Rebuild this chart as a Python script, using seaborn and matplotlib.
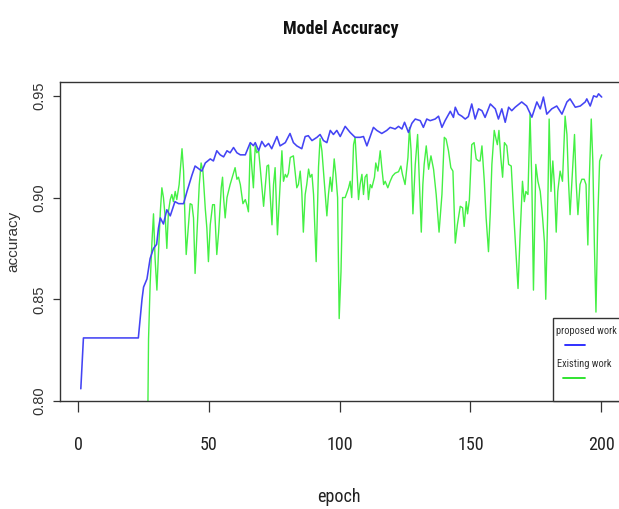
import matplotlib
matplotlib.use("Agg")
import matplotlib.pyplot as plt
from matplotlib import font_manager as fm
import seaborn as sns
import pandas as pd
from matplotlib.patches import Rectangle
from matplotlib.lines import Line2D

# ---------------- data ----------------
proposed_epoch = [1, 2, 23, 24.4, 25, 26.3, 27.5, 28.8, 30, 30.7, 31.4, 32.6, 33.9, 35.2, 37, 38.4,
                  40.3, 41.6, 43.5, 44.7, 47.3, 48.6, 50.5, 51.7, 53, 54.3, 55.6, 56.9, 58.1, 59.4,
                  60.7, 62, 63.9, 65.8, 67, 67.7, 69, 70.2, 71.5, 72.8, 74, 76, 77.2, 79.2, 81, 82.3,
                  83.6, 85.5, 86.8, 88, 89.4, 91.3, 92.5, 93.8, 95.1, 96.4, 97.6, 98.9, 100.2, 102.1,
                  104, 105.9, 107.8, 109.1, 110.4, 112.9, 114.2, 116.1, 118, 119.3, 121.2, 122.5,
                  123.8, 124.8, 126.3, 127.6, 128.9, 130.8, 132, 133.3, 134.6, 136.5, 137.8, 139.1,
                  140.3, 142.3, 143.5, 144.2, 145.4, 146.7, 148, 149.2, 150.5, 151.8, 153.1, 154.4,
                  155.6, 157.6, 159.5, 160.7, 162, 163.3, 164.6, 165.8, 167.1, 169.6, 171.5, 173.5,
                  175.4, 176.7, 177.9, 179.2, 181.1, 183, 185, 186.9, 188.1, 190.1, 192, 193.9,
                  194.5, 195.8, 197.1, 198.3, 199, 200.2]
proposed_acc = [0.806, 0.831, 0.831, 0.850, 0.856, 0.860, 0.870, 0.875, 0.877, 0.885, 0.890, 0.887,
                0.894, 0.891, 0.898, 0.897, 0.897, 0.903, 0.911, 0.9155, 0.913, 0.917, 0.919, 0.918,
                0.923, 0.921, 0.920, 0.923, 0.922, 0.9246, 0.922, 0.921, 0.921, 0.927, 0.9255, 0.927,
                0.923, 0.9276, 0.925, 0.9266, 0.924, 0.930, 0.9254, 0.927, 0.9315, 0.927, 0.9254,
                0.924, 0.930, 0.9304, 0.928, 0.9296, 0.931, 0.928, 0.927, 0.933, 0.931, 0.933, 0.930,
                0.935, 0.932, 0.9296, 0.9296, 0.930, 0.9254, 0.9345, 0.933, 0.9315, 0.933, 0.9345,
                0.9337, 0.935, 0.9337, 0.937, 0.932, 0.9365, 0.9386, 0.9378, 0.9345, 0.9386, 0.9378,
                0.9386, 0.940, 0.9345, 0.9378, 0.9424, 0.9394, 0.9444, 0.941, 0.940, 0.9386, 0.9398,
                0.946, 0.9386, 0.9436, 0.9427, 0.9394, 0.946, 0.9436, 0.9386, 0.9436, 0.937, 0.9444,
                0.9427, 0.9444, 0.947, 0.945, 0.9395, 0.947, 0.9436, 0.9494, 0.941, 0.9436, 0.945,
                0.941, 0.947, 0.9485, 0.9444, 0.945, 0.947, 0.9485, 0.945, 0.950, 0.9494, 0.951,
                0.9494]

existing_epoch = [26.6, 26.9, 27.5, 28.2, 28.8, 29.4, 30.1, 30.7, 31.4, 32, 32.6, 33.3, 33.9, 34.5,
                  35.2, 35.8, 36.4, 37.1, 37.7, 38.6, 39.7, 40.3, 40.9, 41.3, 42.2, 42.8, 43.5, 44.1,
                  44.7, 45.4, 46.3, 47, 47.7, 48.6, 49.2, 49.8, 50.5, 51.4, 52.1, 53, 53.7, 54.7,
                  55.2, 55.6, 56.2, 56.9, 58.1, 59.4, 60, 60.7, 61.3, 62, 63, 63.9, 64.5, 65.1, 65.8,
                  66.4, 67, 67.7, 68.3, 69, 69.6, 70.9, 72.2, 72.8, 73.4, 74.1, 74.7, 75.3, 76.2, 77,
                  77.9, 78.5, 79.2, 79.8, 80.4, 81.1, 82.3, 83.6, 84.2, 84.9, 85.5, 86.1, 86.8, 87.4,
                  88.1, 88.7, 89.4, 90, 91, 91.9, 92.5, 93.2, 93.8, 94.5, 95.1, 95.7, 96.4, 97, 97.9,
                  98.5, 99.2, 99.8, 100.5, 101.1, 102.1, 103.4, 104, 104.6, 105.3, 105.9, 106.6,
                  107.2, 107.8, 108.5, 109.1, 109.7, 110.4, 111, 111.7, 112.3, 113.3, 113.8, 114.6,
                  115.5, 116.1, 116.8, 117.4, 118.4, 119.3, 120.2, 121.2, 122.5, 123.4, 124, 125,
                  126.1, 126.7, 127.3, 128, 128.9, 129.8, 130.5, 131.2, 131.8, 132.3, 133.1, 134,
                  134.9, 135.9, 136.9, 138, 139.1, 140, 140.7, 141.6, 142.5, 143.3, 144.2, 145,
                  146.1, 147, 147.6, 148.4, 148.9, 149.6, 150.5, 151.4, 152.2, 153.1, 153.7, 154.4,
                  155.3, 156, 156.9, 157.6, 158.2, 159.1, 159.8, 160.3, 160.9, 161.6, 162.3, 163,
                  163.9, 164.6, 165.6, 166.5, 167.4, 168.2, 169, 169.9, 170.6, 171.2, 172, 172.8,
                  173.5, 174.1, 175, 175.8, 176.7, 177.6, 178.3, 178.8, 179.5, 180.1, 180.8, 181.5,
                  182.1, 182.8, 183.4, 184.3, 185.2, 186.2, 186.9, 187.5, 188.1, 188.8, 189.8, 190.4,
                  191.1, 191.9, 192.6, 193.5, 194.2, 194.9, 195.4, 196.2, 196.8, 197.4, 198, 198.7,
                  199.4, 200.2]
existing_acc = [0.79, 0.8305, 0.857, 0.878, 0.892, 0.870, 0.8545, 0.873, 0.893, 0.9048, 0.900, 0.890,
                0.875, 0.893, 0.899, 0.9015, 0.898, 0.903, 0.899, 0.9064, 0.924, 0.913, 0.8866,
                0.872, 0.8866, 0.897, 0.8965, 0.890, 0.8627, 0.8817, 0.9064, 0.917, 0.913, 0.8945,
                0.885, 0.8685, 0.8866, 0.8965, 0.8965, 0.872, 0.883, 0.9048, 0.910, 0.900, 0.890,
                0.900, 0.9064, 0.912, 0.9147, 0.909, 0.910, 0.9064, 0.897, 0.899, 0.8965, 0.893,
                0.926, 0.9147, 0.9048, 0.9254, 0.922, 0.923, 0.9147, 0.8957, 0.9155, 0.916, 0.9015,
                0.8866, 0.9064, 0.9147, 0.8817, 0.9015, 0.923, 0.908, 0.9114, 0.910, 0.912, 0.9197,
                0.9205, 0.9048, 0.9064, 0.913, 0.903, 0.883, 0.9015, 0.9064, 0.914, 0.910, 0.9114,
                0.9015, 0.8685, 0.915, 0.929, 0.923, 0.913, 0.9015, 0.891, 0.9015, 0.910, 0.903,
                0.919, 0.9114, 0.900, 0.8405, 0.8635, 0.900, 0.900, 0.9048, 0.908, 0.900, 0.926,
                0.9296, 0.913, 0.899, 0.9064, 0.9114, 0.9015, 0.910, 0.9114, 0.899, 0.9064, 0.9048,
                0.910, 0.917, 0.913, 0.923, 0.9147, 0.9064, 0.908, 0.9048, 0.908, 0.9106, 0.912,
                0.9127, 0.9155, 0.9114, 0.9064, 0.9197, 0.9345, 0.923, 0.892, 0.9163, 0.931, 0.9064,
                0.883, 0.9064, 0.9163, 0.9254, 0.9139, 0.9205, 0.9139, 0.9015, 0.883, 0.9015,
                0.9296, 0.9287, 0.923, 0.9147, 0.913, 0.8776, 0.8866, 0.8957, 0.895, 0.8858, 0.898,
                0.892, 0.899, 0.926, 0.927, 0.919, 0.918, 0.918, 0.9254, 0.908, 0.890, 0.8734,
                0.893, 0.9163, 0.933, 0.9287, 0.926, 0.933, 0.9197, 0.910, 0.927, 0.9254, 0.9163,
                0.9155, 0.893, 0.8734, 0.8553, 0.8817, 0.908, 0.898, 0.903, 0.9015, 0.941, 0.9064,
                0.8545, 0.9163, 0.908, 0.903, 0.890, 0.878, 0.850, 0.890, 0.9386, 0.903, 0.918,
                0.9064, 0.883, 0.903, 0.913, 0.908, 0.940, 0.931, 0.908, 0.8916, 0.908, 0.931, 0.908,
                0.8916, 0.9064, 0.909, 0.909, 0.9064, 0.8767, 0.9064, 0.9386, 0.918, 0.8767, 0.8437,
                0.890, 0.918, 0.921]

x_ticks = [0, 50, 100, 150, 200]
y_ticks = [0.80, 0.85, 0.90, 0.95]
y_tick_labels = ["0.80", "0.85", "0.90", "0.95"]
series_names = ["proposed work", "Existing work"]
title_text = "Model Accuracy"
x_label = "epoch"
y_label = "accuracy"

# ---------------- fonts ----------------
sns.set_style("white")
plt.rcParams['font.family'] = ['Liberation Sans', 'DejaVu Sans']

_fonts = fm.fontManager.ttflist
_names = {f.name for f in _fonts}
narrow_kw = None
for nm in ['Liberation Sans Narrow', 'Arial Narrow', 'Roboto Condensed', 'Open Sans Condensed',
           'DejaVu Sans Condensed', 'Noto Sans Condensed']:
    if nm in _names:
        narrow_kw = dict(family=nm)
        break
if narrow_kw is None:
    for fam in ['Liberation Sans', 'Noto Sans', 'Roboto', 'Open Sans', 'DejaVu Sans']:
        if any(f.name == fam and str(f.stretch) in ('condensed', 'semi-condensed', '75', '87.5')
               for f in _fonts):
            narrow_kw = dict(family=fam, fontstretch='condensed')
            break
HAVE_NARROW = narrow_kw is not None
if narrow_kw is None:
    narrow_kw = dict(family=['Liberation Sans', 'DejaVu Sans'])

# ---------------- plotting ----------------
W, H = 619, 509
fig = plt.figure(figsize=(W / 100, H / 100), dpi=100)
ax_l, ax_r, ax_t, ax_b = 60, 622, 82, 401
ax = fig.add_axes([ax_l / W, 1 - ax_b / H, (ax_r - ax_l) / W, (ax_b - ax_t) / H])

df_p = pd.DataFrame({"epoch": proposed_epoch, "acc": proposed_acc})
df_e = pd.DataFrame({"epoch": existing_epoch, "acc": existing_acc})

BLUE = "#4444f4"
GREEN = "#44f044"
sns.lineplot(data=df_e, x="epoch", y="acc", ax=ax, color=GREEN, lw=1.0,
             estimator=None, sort=False)
sns.lineplot(data=df_p, x="epoch", y="acc", ax=ax, color=BLUE, lw=1.15,
             estimator=None, sort=False)

ax.set_xlim(-6.96, 207.96)
ax.set_ylim(0.8002, 0.9568)

for side in ["left", "top", "bottom", "right"]:
    ax.spines[side].set_color("#333333")
    ax.spines[side].set_linewidth(1.0)

tick_sz = 13 if HAVE_NARROW else 11.5
ax.set_xticks(x_ticks)
ax.set_xticklabels([str(t) for t in x_ticks], fontsize=tick_sz, color="#222222", **narrow_kw)
ax.set_yticks(y_ticks)
ax.set_yticklabels(y_tick_labels, fontsize=10.5, rotation=90, va="center", color="#333333")
ax.tick_params(axis="x", direction="out", length=8, width=0.9, pad=17, color="#333333")
ax.tick_params(axis="y", direction="out", length=5, width=0.9, pad=5, color="#333333")
ax.tick_params(bottom=True, left=True)
ax.set_xlabel("")
ax.set_ylabel("")

fig.text(339 / W, 1 - 497 / H, x_label, ha="center", va="center", fontsize=tick_sz,
         color="#222222", **narrow_kw)
fig.text(13 / W, 1 - 241 / H, y_label, ha="center", va="center", rotation=90,
         fontsize=11, color="#333333")
fig.text(341 / W, 1 - 29 / H, title_text, ha="center", va="center",
         fontsize=13 if HAVE_NARROW else 11.5, fontweight="bold", color="#111111", **narrow_kw)

# legend (R-style: text with line underneath)
def ax_xy(px, py):
    return ((px - ax_l) / (ax_r - ax_l), (ax_b - py) / (ax_b - ax_t))

leg_sz = 7.5 if HAVE_NARROW else 6.5
x0, y0 = ax_xy(553, 401)
x1, y1 = ax_xy(640, 318)
ax.add_patch(Rectangle((x0, y0), x1 - x0, y1 - y0, transform=ax.transAxes,
                       facecolor="white", edgecolor="#333333", lw=1.0, clip_on=False, zorder=5))
tx, ty = ax_xy(556, 331)
ax.text(tx, ty, series_names[0], transform=ax.transAxes, fontsize=leg_sz,
        va="center", ha="left", color="#333333", zorder=6, **narrow_kw)
a, b = ax_xy(565, 345)
c, _ = ax_xy(585, 345)
ax.add_line(Line2D([a, c], [b, b], transform=ax.transAxes, color="#2020ff", lw=1.3, zorder=6))
tx, ty = ax_xy(557, 364)
ax.text(tx, ty, series_names[1], transform=ax.transAxes, fontsize=leg_sz,
        va="center", ha="left", color="#333333", zorder=6, **narrow_kw)
a, b = ax_xy(563, 378)
c, _ = ax_xy(585, 378)
ax.add_line(Line2D([a, c], [b, b], transform=ax.transAxes, color="#20e020", lw=1.3, zorder=6))

fig.savefig("out.png", dpi=100)
